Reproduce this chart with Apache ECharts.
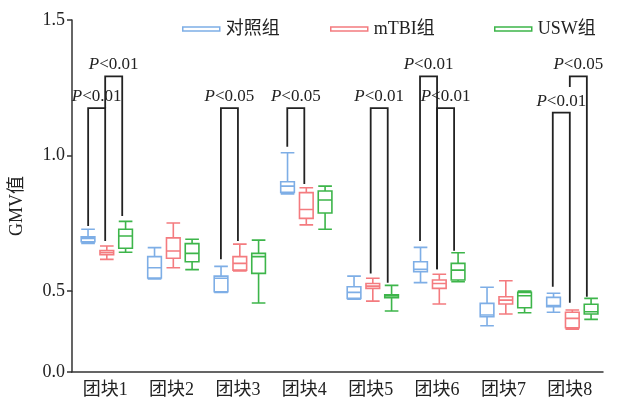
<!DOCTYPE html>
<html>
<head>
<meta charset="utf-8">
<script src="https://cdn.jsdelivr.net/npm/echarts@6/dist/echarts.min.js"></script>
<style>
  html, body { margin: 0; padding: 0; background: #fff; }
  #main { width: 617px; height: 404px; }
</style>
</head>
<body>
<div id="main"></div>
<script>
// data
var categories = ['团块1', '团块2', '团块3', '团块4', '团块5', '团块6', '团块7', '团块8'];
var groupNames = ['对照组', 'mTBI组', 'USW组'];
var yTicks = [0, 0.5, 1.0, 1.5];

// [min, Q1, median, Q3, max]
var ctrlBox = [
    [0.676, 0.682, 0.694, 0.700, 0.728],
    [0.545, 0.548, 0.586, 0.627, 0.660],
    [0.492, 0.496, 0.547, 0.555, 0.591],
    [0.858, 0.864, 0.887, 0.903, 1.010],
    [0.449, 0.455, 0.492, 0.516, 0.555],
    [0.531, 0.571, 0.580, 0.608, 0.661],
    [0.286, 0.341, 0.352, 0.424, 0.514],
    [0.369, 0.403, 0.410, 0.461, 0.486]
];
var mtbiBox = [
    [0.617, 0.634, 0.641, 0.649, 0.666],
    [0.586, 0.621, 0.648, 0.696, 0.751],
    [0.574, 0.577, 0.602, 0.627, 0.673],
    [0.744, 0.768, 0.801, 0.863, 0.881],
    [0.438, 0.510, 0.518, 0.528, 0.547],
    [0.420, 0.510, 0.528, 0.541, 0.562],
    [0.358, 0.420, 0.444, 0.465, 0.538],
    [0.265, 0.273, 0.331, 0.369, 0.383]
];
var uswBox = [
    [0.643, 0.658, 0.703, 0.728, 0.757],
    [0.579, 0.608, 0.639, 0.675, 0.691],
    [0.426, 0.565, 0.627, 0.639, 0.688],
    [0.728, 0.788, 0.836, 0.869, 0.887],
    [0.377, 0.459, 0.469, 0.477, 0.521],
    [0.534, 0.541, 0.577, 0.602, 0.641],
    [0.366, 0.397, 0.471, 0.492, 0.500],
    [0.325, 0.358, 0.372, 0.418, 0.455]
];

// significance brackets: [category, fromGroup, toGroup, top, leftLegEnd, rightLegEnd, label]
var brackets = [
    [0, 0, 1, 1.175, 0.740, 0.685, '<0.01'],
    [0, 1, 2, 1.292, 1.175, 0.777, '<0.01'],
    [2, 0, 1, 1.175, 0.617, 0.685, '<0.05'],
    [3, 0, 1, 1.175, 1.032, 0.895, '<0.05'],
    [4, 1, 2, 1.175, 0.565, 0.531, '<0.01'],
    [5, 0, 1, 1.292, 0.685, 0.580, '<0.01'],
    [5, 1, 2, 1.175, 0.580, 0.649, '<0.01'],
    [7, 0, 1, 1.158, 0.516, 0.428, '<0.01'],
    [7, 1, 2, 1.292, 1.253, 0.465, '<0.05']
];

var colors = ['#7eaee6', '#f47b7f', '#3db54a'];
var serif = '"Liberation Serif", "Noto Sans CJK SC", serif';

//layout
var gridLeft = 71, gridTop = 20, gridW = 532, gridH = 352;
var band = gridW / categories.length;
// echarts boxplot puts 3 boxes with a slight left bias; shift their grid to centre them on the ticks
var per = (band * 0.8 - 2) / 3;
var boxShift = per * 0.15;
var groupFrac = per / band;
var tickFrac = 5 / band;

function yAxisCfg(idx, visible) {
    return {
        type: 'value',
        gridIndex: idx,
        min: 0,
        max: 1.5,
        interval: 0.5,
        show: visible,
        breaks: [{ start: 0, end: 0.5, gap: '23%' }],
        breakArea: {
            show: false,
            expandOnClick: false,
            itemStyle: { color: 'rgba(0,0,0,0)', borderColor: 'rgba(0,0,0,0)', opacity: 0 }
        },
        splitLine: { show: false },
        axisLine: { show: true, onZero: false, lineStyle: { color: '#333', width: 1.5 } },
        axisTick: { show: true, length: 5, lineStyle: { color: '#333', width: 1.5 } },
        axisLabel: {
            color: '#222',
            fontFamily: serif,
            fontSize: 18,
            margin: 7,
            formatter: function(v) {
                for (var i = 0; i < yTicks.length; i++) {
                    if (Math.abs(v - yTicks[i]) < 1e-6) return yTicks[i].toFixed(1);
                }
                return '';
            }
        },
        name: visible ? 'GMV值' : '',
        nameLocation: 'middle',
        nameRotate: 90,
        nameGap: 46,
        nameTextStyle: { color: '#222', fontFamily: serif, fontSize: 18, padding: [0, 20, 0, 0] }
    };
}

function boxSeries(i, values) {
    return {
        name: groupNames[i],
        type: 'boxplot',
        xAxisIndex: 1,
        yAxisIndex: 1,
        data: values,
        itemStyle: { color: '#fff', borderColor: colors[i], borderWidth: 1.6 },
        emphasis: { disabled: true }
    };
}

function legendCfg(i, left) {
    return {
        data: [groupNames[i]],
        left: left,
        top: 15,
        icon: 'rect',
        itemWidth: 37,
        itemHeight: 4,
        selectedMode: false,
        itemStyle: { color: '#fff', borderColor: colors[i], borderWidth: 1.5 },
        textStyle: { color: '#222', fontFamily: serif, fontSize: 18, padding: [0, 0, 0, 1] }
    };
}

var bracketData = brackets.map(function(b) {
    return [
        b[0] + (b[1] - 1) * groupFrac,
        b[0] + (b[2] - 1) * groupFrac,
        b[3], b[4], b[5], b[6]
    ];
});

var chart = echarts.init(document.getElementById('main'), null, { renderer: 'canvas' });

chart.setOption({
    animation: false,
    backgroundColor: '#fff',
    legend: [legendCfg(0, 177), legendCfg(1, 325), legendCfg(2, 489)],
    grid: [
        { left: gridLeft, top: gridTop, width: gridW, height: gridH },
        { left: gridLeft + boxShift, top: gridTop, width: gridW, height: gridH }
    ],
    xAxis: [{
        type: 'category',
        gridIndex: 0,
        data: categories,
        axisLine: { onZero: false, lineStyle: { color: '#333', width: 1.5 } },
        axisTick: { alignWithLabel: true, length: 5, lineStyle: { color: '#333', width: 1.5 } },
        axisLabel: { color: '#222', fontFamily: serif, fontSize: 18, margin: 9 }
    }, {
        type: 'category',
        gridIndex: 1,
        data: categories,
        show: false
    }, {
        type: 'value',
        gridIndex: 0,
        min: -0.5,
        max: categories.length - 0.5,
        show: false
    }],
    yAxis: [yAxisCfg(0, true), yAxisCfg(1, false)],
    series: [
        boxSeries(0, ctrlBox),
        boxSeries(1, mtbiBox),
        boxSeries(2, uswBox),
        {
            // the break leaves the lower piece of the y axis line out; draw it back
            type: 'line',
            xAxisIndex: 2,
            yAxisIndex: 0,
            silent: true,
            symbol: 'none',
            clip: false,
            lineStyle: { color: '#333', width: 1.5 },
            data: [[-0.5 - tickFrac, 0], [-0.5, 0], [-0.5, 0.5]]
        },
        {
            type: 'custom',
            xAxisIndex: 2,
            yAxisIndex: 0,
            silent: true,
            clip: false,
            encode: { x: [0, 1], y: [2, 3, 4] },
            data: bracketData,
            renderItem: function(params, api) {
                var xl = api.value(0), xr = api.value(1), top = api.value(2);
                var pLo = api.coord([xl, api.value(3)]);
                var pTl = api.coord([xl, top]);
                var pTr = api.coord([xr, top]);
                var pRo = api.coord([xr, api.value(4)]);
                var label = bracketData[params.dataIndex][5];
                return {
                    type: 'group',
                    children: [{
                        type: 'polyline',
                        shape: { points: [pLo, pTl, pTr, pRo] },
                        style: { stroke: '#222', lineWidth: 1.8, fill: null }
                    }, {
                        type: 'text',
                        style: {
                            x: (pTl[0] + pTr[0]) / 2,
                            y: pTl[1] - 3,
                            text: '{i|P}' + label,
                            align: 'center',
                            verticalAlign: 'bottom',
                            fill: '#222',
                            font: '17px "Liberation Serif", serif',
                            rich: {
                                i: { fontStyle: 'italic', fontSize: 17, fontFamily: 'Liberation Serif', fill: '#222' }
                            }
                        }
                    }]
                };
            }
        }
    ]
});
</script>
</body>
</html>
